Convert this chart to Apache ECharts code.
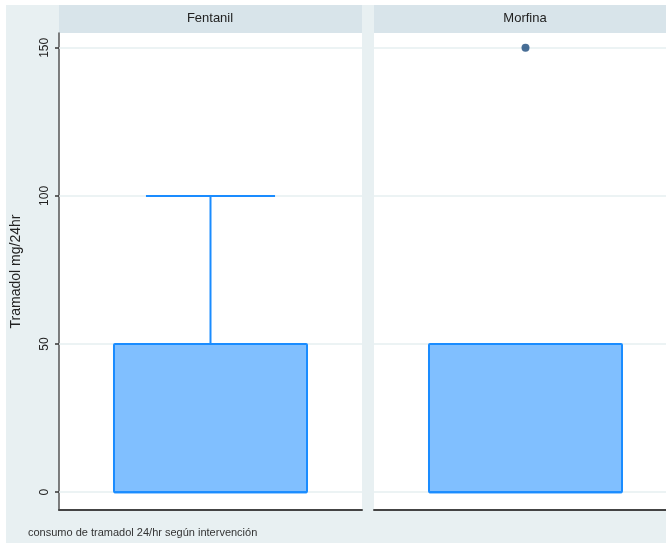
<!DOCTYPE html>
<html>
<head>
    <meta charset="utf-8">
    <title>Tramadol mg/24hr</title>
    <script src="https://cdn.jsdelivr.net/npm/echarts@6/dist/echarts.min.js"></script>
    <style>
        html, body { margin: 0; padding: 0; background: #fff; overflow: hidden; }
        /* el segundo panel queda cortado en el borde derecho, como en el original */
        #main { width: 690px; height: 543px; }
    </style>
</head>
<body>
<div id="main"></div>
<script>
    // datos
    var groups = ['Fentanil', 'Morfina'];
    // [min, q1, mediana, q3, max]
    var fentanilBox = [0, 0, 0, 50, 100];
    var morfinaBox = [0, 0, 0, 50, 50];
    var morfinaOutliers = [150];
    var yTicks = [0, 50, 100, 150];

    var fontFam = 'Liberation Sans, Arial, sans-serif';
    var boxFill = '#80bfff', boxLine = '#1a8cff';

    var myChart = echarts.init(document.getElementById('main'));

    function renderBox(params, api) {
        var cat = api.value(0);
        var x = api.coord([cat, 0])[0];
        var band = api.size([1, 0])[0];
        var boxW = band * 0.637, capW = band * 0.426;
        var yMin = api.coord([cat, api.value(1)])[1];
        var yQ1 = api.coord([cat, api.value(2)])[1];
        var yMed = api.coord([cat, api.value(3)])[1];
        var yQ3 = api.coord([cat, api.value(4)])[1];
        var yMax = api.coord([cat, api.value(5)])[1];
        var st = {stroke: boxLine, lineWidth: 2};
        var children = [];
        if (yMax < yQ3) {
            children.push({type: 'line', shape: {x1: x, y1: yQ3, x2: x, y2: yMax}, style: st});
            children.push({type: 'line', shape: {x1: x - capW / 2, y1: yMax, x2: x + capW / 2, y2: yMax}, style: st});
        }
        if (yMin > yQ1) {
            children.push({type: 'line', shape: {x1: x, y1: yQ1, x2: x, y2: yMin}, style: st});
            children.push({type: 'line', shape: {x1: x - capW / 2, y1: yMin, x2: x + capW / 2, y2: yMin}, style: st});
        }
        children.push({
            type: 'rect',
            shape: {x: x - boxW / 2, y: yQ3, width: boxW, height: yQ1 - yQ3, r: 1},
            style: {fill: boxFill, stroke: boxLine, lineWidth: 2}
        });
        children.push({type: 'line', shape: {x1: x - boxW / 2, y1: yMed, x2: x + boxW / 2, y2: yMed}, style: st});
        return {type: 'group', children: children};
    }

    function yAxisFor(idx, showLine) {
        return {
            type: 'value',
            gridIndex: idx,
            min: -6,
            max: 155,
            axisLine: {show: showLine, lineStyle: {color: '#555', width: 1.5}},
            axisTick: {show: showLine, length: 4, customValues: yTicks, lineStyle: {color: '#333', width: 1.5}},
            axisLabel: {
                show: showLine, customValues: yTicks, rotate: 90, margin: 8,
                color: '#222', fontSize: 12, fontFamily: fontFam
            },
            splitLine: {show: false},
            name: showLine ? 'Tramadol mg/24hr' : '',
            nameLocation: 'middle',
            nameGap: 36,
            nameTextStyle: {color: '#222', fontSize: 14, fontFamily: fontFam}
        };
    }

    function xAxisFor(idx) {
        return {
            type: 'category',
            gridIndex: idx,
            data: [groups[idx]],
            axisLine: {show: true, onZero: false, lineStyle: {color: '#444', width: 2}},
            axisTick: {show: false},
            axisLabel: {show: false},
            splitLine: {show: false}
        };
    }

    // lineas de referencia horizontales (serie vacia por debajo de las cajas)
    function gridSeries(idx) {
        return {
            type: 'line',
            xAxisIndex: idx, yAxisIndex: idx,
            data: [],
            z: 1,
            markLine: {
                silent: true,
                z: 1,
                symbol: 'none',
                label: {show: false},
                lineStyle: {color: '#e6eff1', width: 1.5, type: 'solid'},
                data: yTicks.map(function (v) { return {yAxis: v}; })
            }
        };
    }

    var option = {
        backgroundColor: '#fff',
        animation: false,
        graphic: [
            {type: 'rect', z: -10, shape: {x: 6, y: 5, width: 690, height: 538}, style: {fill: '#e8f0f2'}},
            {type: 'rect', z: -5, shape: {x: 59, y: 5, width: 303, height: 28}, style: {fill: '#d8e4ea'}},
            {type: 'rect', z: -5, shape: {x: 374, y: 5, width: 303, height: 28}, style: {fill: '#d8e4ea'}},
            {type: 'text', x: 210, y: 18, style: {text: groups[0], fill: '#222', font: '13px ' + fontFam, align: 'center', verticalAlign: 'middle'}},
            {type: 'text', x: 525, y: 18, style: {text: groups[1], fill: '#222', font: '13px ' + fontFam, align: 'center', verticalAlign: 'middle'}},
            {type: 'text', x: 28, y: 533, style: {text: 'consumo de tramadol 24/hr según intervención', fill: '#333', font: '11px ' + fontFam, verticalAlign: 'middle'}}
        ],
        grid: [
            {left: 59, top: 33, width: 303, height: 477, show: true, backgroundColor: '#fff', borderWidth: 0},
            {left: 374, top: 33, width: 303, height: 477, show: true, backgroundColor: '#fff', borderWidth: 0}
        ],
        xAxis: [xAxisFor(0), xAxisFor(1)],
        yAxis: [yAxisFor(0, true), yAxisFor(1, false)],
        series: [
            gridSeries(0),
            gridSeries(1),
            {
                type: 'custom',
                xAxisIndex: 0, yAxisIndex: 0,
                renderItem: renderBox,
                encode: {x: 0, y: [1, 2, 3, 4, 5]},
                data: [[0].concat(fentanilBox)],
                z: 3
            },
            {
                type: 'custom',
                xAxisIndex: 1, yAxisIndex: 1,
                renderItem: renderBox,
                encode: {x: 0, y: [1, 2, 3, 4, 5]},
                data: [[0].concat(morfinaBox)],
                z: 3
            },
            {
                type: 'scatter',
                xAxisIndex: 1, yAxisIndex: 1,
                symbol: 'circle',
                symbolSize: 8,
                itemStyle: {color: '#1a4a7c'},
                data: morfinaOutliers.map(function (v) { return [0, v]; }),
                z: 4
            }
        ]
    };

    myChart.setOption(option);
</script>
</body>
</html>
